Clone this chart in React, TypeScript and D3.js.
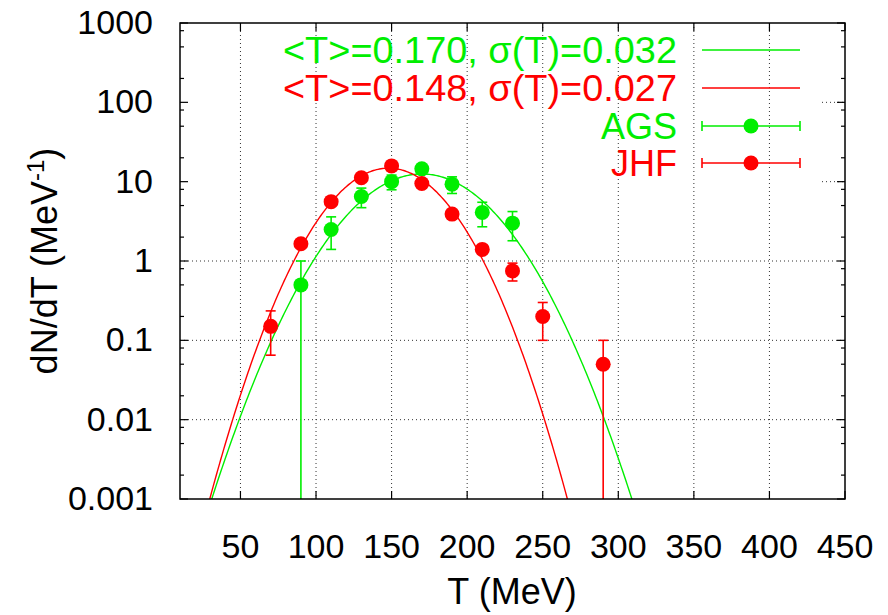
import React from 'react';
import * as d3 from 'd3';

const W = 888;
const H = 615;
const PL = 180, PR = 845, PT = 23, PB = 499;

// Axis ticks
const xTicks = [50, 100, 150, 200, 250, 300, 350, 400, 450];
const yTicks = [0.001, 0.01, 0.1, 1, 10, 100, 1000];
const yTickLabels = ['0.001', '0.01', '0.1', '1', '10', '100', '1000'];
const yMinorFactors = [2, 5, 8];

// AGS data (green)
const agsT = [90, 110, 130, 150, 170, 190, 210, 230];
const agsN = [0.5, 2.5, 6.5, 10, 14.5, 9.3, 4.1, 3.0];
const agsErr = [0.5, 1.1, 1.8, 2.1, 1.5, 2.2, 1.4, 1.2];

// JHF data (red)
const jhfT = [70, 90, 110, 130, 150, 170, 190, 210, 230, 250, 290];
const jhfN = [0.15, 1.65, 5.6, 11.2, 15.8, 9.5, 3.9, 1.4, 0.75, 0.2, 0.05];
const jhfErr = [0.085, 0.15, 0.4, 0.8, 1.0, 0.7, 0.3, 0.15, 0.19, 0.1, 0.05];

// Gaussian fits (parameters from legend, GeV)
const fitLabels = ['<T>=0.170, σ(T)=0.032', '<T>=0.148, σ(T)=0.027'];
const fitMean = [0.170, 0.148];
const fitSigma = [0.032, 0.027];
const fitAmp = [12.5, 14.8];

const GREEN = '#00ee00';
const RED = '#ff0000';
const FONT = '"Liberation Sans", Arial, Helvetica, sans-serif';
const FS_TICK = 34;
const FS_TITLE = 36;
const FS_LEG = 36;

export default function App() {
  const x = d3.scaleLinear().domain([10, 450]).range([PL, PR]);
  const y = d3.scaleLog().domain([0.001, 1000]).range([PB, PT]);

  const fitPath = (i: number) => {
    const pts: [number, number][] = [];
    for (let t = 10; t <= 450; t += 1) {
      const g = t / 1000;
      const v = fitAmp[i] * Math.exp(-((g - fitMean[i]) ** 2) / (2 * fitSigma[i] ** 2));
      pts.push([t, Math.max(v, 1e-6)]);
    }
    return d3.line<[number, number]>().x(d => x(d[0])).y(d => y(d[1]))(pts) || '';
  };

  const minorTicks: number[] = [];
  for (let e = -3; e < 3; e++) {
    yMinorFactors.forEach(f => minorTicks.push(f * Math.pow(10, e)));
  }

  const errBars = (ts: number[], ns: number[], es: number[], color: string, key: string) =>
    ts.map((t, i) => {
      const hi = ns[i] + es[i];
      const lo = ns[i] - es[i];
      const yHi = y(hi);
      const yLo = lo > 0 ? y(lo) : PB + 20;
      const cx = x(t);
      return (
        <g key={key + i} stroke={color} strokeWidth={1.6}>
          <line x1={cx} x2={cx} y1={yHi} y2={yLo} />
          <line x1={cx - 5} x2={cx + 5} y1={yHi} y2={yHi} />
          {lo > 0 && <line x1={cx - 5} x2={cx + 5} y1={yLo} y2={yLo} />}
        </g>
      );
    });

  const dots = (ts: number[], ns: number[], color: string, key: string) =>
    ts.map((t, i) => <circle key={key + i} cx={x(t)} cy={y(ns[i])} r={7.5} fill={color} />);

  const legendRowY = [50, 88, 126, 163];
  const legendTextX = 677;
  const lx1 = 702, lx2 = 800, lmx = 751;

  return (
    <svg width={W} height={H} style={{ display: 'block', position: 'absolute', left: 0, top: 0, background: '#fff' }}
      fontFamily={FONT}>
      <defs>
        <clipPath id="plotclip">
          <rect x={PL} y={PT} width={PR - PL} height={PB - PT} />
        </clipPath>
      </defs>
      <rect x={0} y={0} width={W} height={H} fill="#fff" />

      {/* grid */}
      <g stroke="#333" strokeWidth={1} strokeDasharray="1,3">
        {xTicks.filter(t => x(t) < PR - 2).map(t => (
          <line key={'gx' + t} x1={x(t)} x2={x(t)} y1={PT} y2={PB} />
        ))}
        {yTicks.filter(v => y(v) > PT + 2 && y(v) < PB - 2).map(v => (
          v >= 10
            ? <line key={'gy' + v} x1={822} x2={PR} y1={y(v)} y2={y(v)} />
            : <line key={'gy' + v} x1={PL} x2={PR} y1={y(v)} y2={y(v)} />
        ))}
      </g>

      {/* ticks */}
      <g stroke="#000" strokeWidth={1.2}>
        {xTicks.map(t => (
          <g key={'tx' + t}>
            <line x1={x(t)} x2={x(t)} y1={PB} y2={PB - 8} />
            <line x1={x(t)} x2={x(t)} y1={PT} y2={PT + 8} />
          </g>
        ))}
        {yTicks.map(v => (
          <g key={'ty' + v}>
            <line x1={PL} x2={PL + 8} y1={y(v)} y2={y(v)} />
            <line x1={PR} x2={PR - 8} y1={y(v)} y2={y(v)} />
          </g>
        ))}
        {minorTicks.map(v => (
          <g key={'tm' + v}>
            <line x1={PL} x2={PL + 4} y1={y(v)} y2={y(v)} />
            <line x1={PR} x2={PR - 4} y1={y(v)} y2={y(v)} />
          </g>
        ))}
      </g>

      {/* fits */}
      <g clipPath="url(#plotclip)" fill="none" strokeWidth={1.4}>
        <path d={fitPath(0)} stroke={GREEN} />
        <path d={fitPath(1)} stroke={RED} />
      </g>

      {/* data */}
      <g clipPath="url(#plotclip)">
        {errBars(agsT, agsN, agsErr, GREEN, 'ea')}
        {errBars(jhfT, jhfN, jhfErr, RED, 'ej')}
        {dots(agsT, agsN, GREEN, 'da')}
        {dots(jhfT, jhfN, RED, 'dj')}
      </g>

      {/* frame */}
      <rect x={PL} y={PT} width={PR - PL} height={PB - PT} fill="none" stroke="#000" strokeWidth={1.5} />

      {/* tick labels */}
      <g fontSize={FS_TICK} fill="#000">
        {xTicks.map(t => (
          <text key={'lx' + t} x={x(t)} y={558} textAnchor="middle">{t}</text>
        ))}
        {yTicks.map((v, i) => (
          <text key={'ly' + v} x={153} y={y(v) + 11} textAnchor="end">{yTickLabels[i]}</text>
        ))}
      </g>

      {/* axis titles */}
      <text x={512} y={604} fontSize={FS_TITLE} textAnchor="middle" fill="#000">T (MeV)</text>
      <text transform={`translate(57,261) rotate(-90)`} fontSize={FS_TITLE} textAnchor="middle" fill="#000">
        dN/dT (MeV<tspan dy={-13} fontSize={24}>-1</tspan><tspan dy={13}>)</tspan>
      </text>

      {/* legend */}
      <g fontSize={FS_LEG}>
        <text x={legendTextX} y={legendRowY[0] + 13} textAnchor="end" fill={GREEN}
          textLength={394} lengthAdjust="spacingAndGlyphs">{fitLabels[0]}</text>
        <line x1={lx1} x2={lx2} y1={legendRowY[0]} y2={legendRowY[0]} stroke={GREEN} strokeWidth={1.4} />
        <text x={legendTextX} y={legendRowY[1] + 13} textAnchor="end" fill={RED}
          textLength={394} lengthAdjust="spacingAndGlyphs">{fitLabels[1]}</text>
        <line x1={lx1} x2={lx2} y1={legendRowY[1]} y2={legendRowY[1]} stroke={RED} strokeWidth={1.4} />
        <text x={legendTextX} y={legendRowY[2] + 13} textAnchor="end" fill={GREEN}>AGS</text>
        <g stroke={GREEN} strokeWidth={1.6}>
          <line x1={lx1} x2={lx2} y1={legendRowY[2]} y2={legendRowY[2]} />
          <line x1={lx1} x2={lx1} y1={legendRowY[2] - 5} y2={legendRowY[2] + 5} />
          <line x1={lx2} x2={lx2} y1={legendRowY[2] - 5} y2={legendRowY[2] + 5} />
        </g>
        <circle cx={lmx} cy={legendRowY[2]} r={7.5} fill={GREEN} />
        <text x={legendTextX} y={legendRowY[3] + 13} textAnchor="end" fill={RED}>JHF</text>
        <g stroke={RED} strokeWidth={1.6}>
          <line x1={lx1} x2={lx2} y1={legendRowY[3]} y2={legendRowY[3]} />
          <line x1={lx1} x2={lx1} y1={legendRowY[3] - 5} y2={legendRowY[3] + 5} />
          <line x1={lx2} x2={lx2} y1={legendRowY[3] - 5} y2={legendRowY[3] + 5} />
        </g>
        <circle cx={lmx} cy={legendRowY[3]} r={7.5} fill={RED} />
      </g>
    </svg>
  );
}
